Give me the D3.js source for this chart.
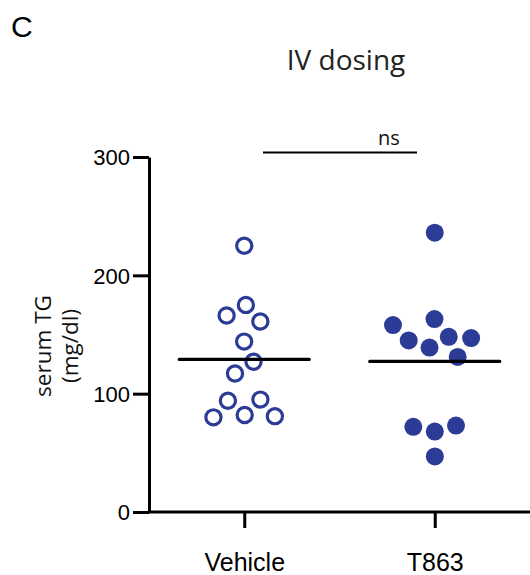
<!DOCTYPE html>
<html>
<head>
<meta charset="utf-8">
<script src="https://cdn.jsdelivr.net/npm/d3@7"></script>
<style>
  body { margin: 0; background: #fff; }
</style>
</head>
<body>
<svg id="canvas" width="530" height="575"></svg>
<script>
/********** Data *********/
var groups = ["Vehicle", "T863"];
var vehicle_values = [225, 175, 166, 161, 144, 127, 117, 95, 94, 82, 80, 81];
var t863_values = [236, 163, 158, 148, 145, 147, 139, 131, 72, 73, 68, 47];
var y_ticks = [0, 100, 200, 300];

/********** Initialisation *********/
var svg = d3.select("#canvas");
var blue = "#2c3b95";

var x = d3.scalePoint()
    .domain(groups)
    .range([149, 530])
    .padding(0.5);

var y = d3.scaleLinear()
    .domain([0, 300])
    .range([512, 157]);

/********** Axes *********/
var yAxis = svg.append("g")
    .attr("transform", "translate(149,0)")
    .call(d3.axisLeft(y).tickValues(y_ticks).tickSize(16).tickPadding(3).tickSizeOuter(0));

var xAxis = svg.append("g")
    .attr("transform", "translate(0,512)")
    .call(d3.axisBottom(x).tickSize(16).tickPadding(25).tickSizeOuter(0));

[yAxis, xAxis].forEach(function(a) {
    a.select(".domain").attr("stroke", "#000").attr("stroke-width", 3);
    a.selectAll(".tick line").attr("stroke", "#000").attr("stroke-width", 3);
    a.selectAll("text")
        .attr("fill", "#000")
        .style("font-family", "Liberation Sans, Arial, sans-serif");
});
yAxis.selectAll("text").style("font-size", "22px").attr("dy", "0.36em");
xAxis.selectAll("text").style("font-size", "25px").attr("dy", "0.71em");
// x axis line runs from the y axis to the right edge
xAxis.select(".domain").attr("d", "M149,0H530");

/********** Labels *********/
svg.append("text")
    .attr("x", 11)
    .attr("y", 37)
    .style("font-family", "Liberation Sans, Arial, sans-serif")
    .style("font-size", "30px")
    .text("C");

svg.append("text")
    .attr("x", 346)
    .attr("y", 70)
    .attr("text-anchor", "middle")
    .style("font-family", "Open Sans, sans-serif")
    .style("font-size", "28px")
    .attr("fill", "#222")
    .text("IV dosing");

var ytitle = svg.append("text")
    .attr("transform", "translate(0,346) rotate(-90)")
    .attr("text-anchor", "middle")
    .style("font-family", "Open Sans, sans-serif")
    .style("font-size", "22.5px")
    .attr("fill", "#111");
ytitle.append("tspan").attr("x", 0).attr("y", 51).text("serum TG");
ytitle.append("tspan").attr("x", 0).attr("y", 78).text("(mg/dl)");

// significance bar
svg.append("line")
    .attr("x1", 263).attr("x2", 417)
    .attr("y1", 152.5).attr("y2", 152.5)
    .attr("stroke", "#000")
    .attr("stroke-width", 2.2);

svg.append("text")
    .attr("x", 389)
    .attr("y", 145)
    .attr("text-anchor", "middle")
    .style("font-family", "Open Sans, sans-serif")
    .style("font-size", "20px")
    .attr("fill", "#111")
    .text("ns");

/********** Beeswarm *********/
function swarm(values, group)
{
    var nodes = values.map(function(v, i) {
        return {value: v, x: x(group) + (i % 2 ? 0.5 : -0.5) * (i + 1), y: y(v), fy: y(v)};
    });
    var sim = d3.forceSimulation(nodes)
        .force("x", d3.forceX(x(group)).strength(0.06))
        .force("collide", d3.forceCollide(11).iterations(3))
        .stop();
    for (var i = 0; i < 300; i++) sim.tick();
    return nodes;
}

var vehicle_nodes = swarm(vehicle_values, "Vehicle");
var t863_nodes = swarm(t863_values, "T863");

svg.append("g")
    .selectAll("circle")
    .data(vehicle_nodes)
    .enter()
    .append("circle")
    .attr("cx", function(d) { return d.x; })
    .attr("cy", function(d) { return d.y; })
    .attr("r", 7.6)
    .attr("fill", "#fff")
    .attr("stroke", blue)
    .attr("stroke-width", 3.2);

svg.append("g")
    .selectAll("circle")
    .data(t863_nodes)
    .enter()
    .append("circle")
    .attr("cx", function(d) { return d.x; })
    .attr("cy", function(d) { return d.y; })
    .attr("r", 9)
    .attr("fill", blue);

/********** Mean lines *********/
var means = [
    {group: "Vehicle", value: d3.mean(vehicle_values)},
    {group: "T863", value: d3.mean(t863_values)}
];

svg.append("g")
    .selectAll("line")
    .data(means)
    .enter()
    .append("line")
    .attr("x1", function(d) { return x(d.group) - 65; })
    .attr("x2", function(d) { return x(d.group) + 65; })
    .attr("y1", function(d) { return y(d.value); })
    .attr("y2", function(d) { return y(d.value); })
    .attr("stroke", "#000")
    .attr("stroke-width", 3.2)
    .attr("stroke-linecap", "round");
</script>
</body>
</html>
